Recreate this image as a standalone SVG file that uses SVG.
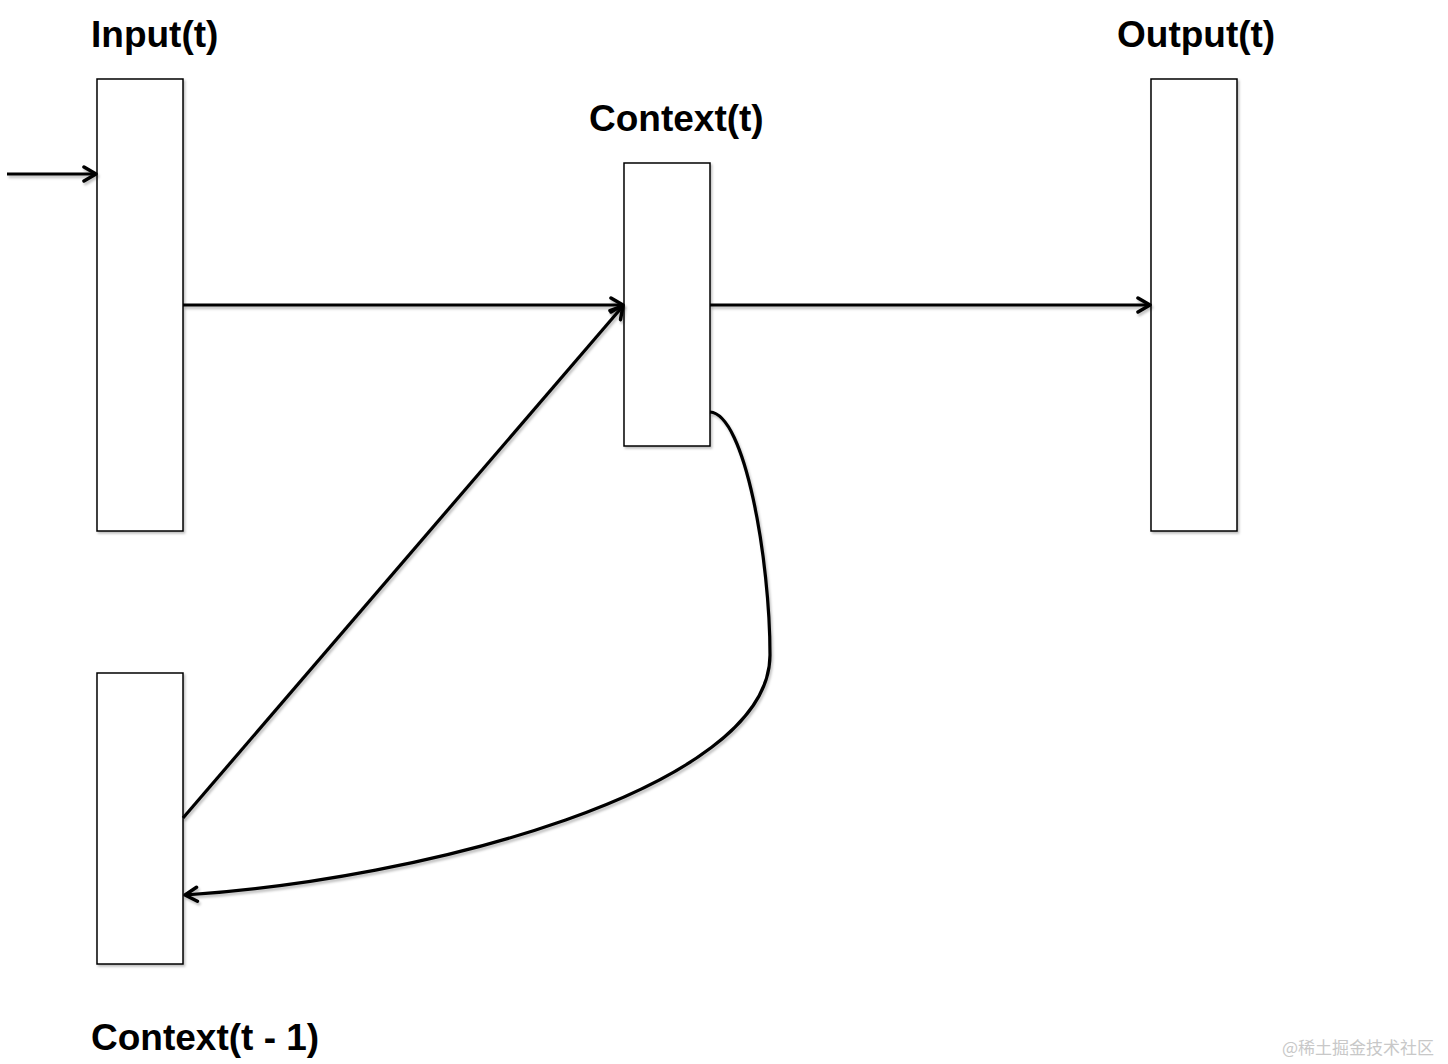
<svg xmlns="http://www.w3.org/2000/svg" width="1448" height="1064" viewBox="0 0 1448 1064">
<defs>
<marker id="arr" viewBox="0 0 18 18" refX="16" refY="9" markerWidth="18" markerHeight="18" markerUnits="userSpaceOnUse" orient="auto">
<path d="M4,2 L16,9 L4,16" fill="none" stroke="#000" stroke-width="3.5" stroke-linecap="round" stroke-linejoin="round"/>
</marker>
<filter id="sh" x="-10%" y="-10%" width="130%" height="130%">
<feDropShadow dx="1.5" dy="2" stdDeviation="1.2" flood-color="#000" flood-opacity="0.25"/>
</filter>
<filter id="sh2" filterUnits="userSpaceOnUse" x="0" y="0" width="1448" height="1064">
<feDropShadow dx="1.5" dy="2.5" stdDeviation="1.2" flood-color="#000" flood-opacity="0.25"/>
</filter>
</defs>
<style>
.box{fill:#fff;stroke:#000;stroke-width:1.5;filter:url(#sh)}
.lbl{font-family:"Liberation Sans",Arial,sans-serif;font-weight:bold;font-size:37px;fill:#000}
.c{fill:none;stroke:#000;stroke-width:3.2;marker-end:url(#arr);filter:url(#sh2)}
.wm{font-family:"Noto Sans CJK SC","Liberation Sans",sans-serif;font-size:17px;fill:#c8c8c8}
</style>
<rect width="1448" height="1064" fill="#fff"/>
<g id="input">
<rect class="box" x="97" y="79" width="86" height="452"/>
<text class="lbl" x="91" y="47">Input(t)</text>
</g>
<g id="context">
<rect class="box" x="624" y="163" width="86" height="283"/>
<text class="lbl" x="589" y="131">Context(t)</text>
</g>
<g id="output">
<rect class="box" x="1151" y="79" width="86" height="452"/>
<text class="lbl" x="1117" y="47">Output(t)</text>
</g>
<g id="context_prev">
<rect class="box" x="97" y="673" width="86" height="291"/>
<text class="lbl" x="91" y="1050">Context(t - 1)</text>
</g>
<g id="connectors">
<path class="c" d="M7,174 L96,174"/>
<path class="c" d="M183,305 L623,305"/>
<path class="c" d="M710,305 L1150,305"/>
<path class="c" d="M183,818 L623,306"/>
<path class="c" d="M710,412 C745,414 770,560 770,655 C770,790 420,880 185,895"/>
</g>
<text class="wm" x="1282" y="1054">@稀土掘金技术社区</text>
</svg>
